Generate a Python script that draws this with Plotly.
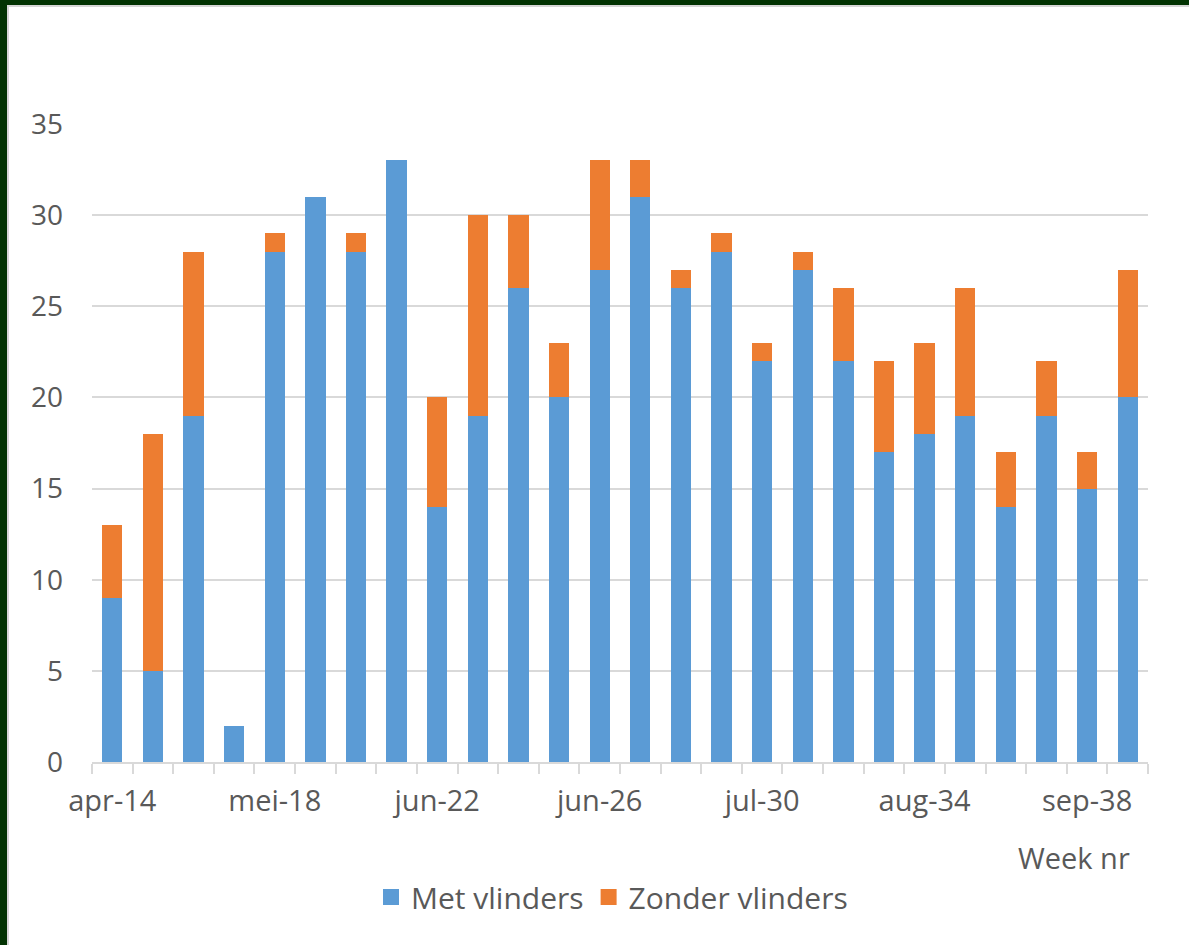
import plotly.graph_objects as go

weeks = list(range(14, 40))
met_vlinders = [9, 5, 19, 2, 28, 31, 28, 33, 14, 19, 26, 20, 27, 31, 26, 28, 22, 27, 22, 17, 18, 19, 14, 19, 15, 20]
zonder_vlinders = [4, 13, 9, 0, 1, 0, 1, 0, 6, 11, 4, 3, 6, 2, 1, 1, 1, 1, 4, 5, 5, 7, 3, 3, 2, 7]
tick_weeks = [14, 18, 22, 26, 30, 34, 38]
tick_labels = ["apr-14", "mei-18", "jun-22", "jun-26", "jul-30", "aug-34", "sep-38"]

W, H = 1189, 945
L, R, T, B = 92, 41, 124, 183
FONT = "Open Sans"
GREY = "#595959"
BLUE = "#5b9bd5"
ORANGE = "#ed7d31"


def px(x):
    return (x - L) / (W - L - R)


def py(y):
    return (H - B - y) / (H - T - B)


fig = go.Figure()
fig.add_trace(go.Bar(x=weeks, y=met_vlinders, name="Met vlinders", showlegend=False,
                     marker=dict(color=BLUE, line_width=0)))
fig.add_trace(go.Bar(x=weeks, y=zonder_vlinders, name="Zonder vlinders", showlegend=False,
                     marker=dict(color=ORANGE, line_width=0)))
# legend entries with big square keys
for name, col in [("Met vlinders", BLUE), ("Zonder vlinders", ORANGE)]:
    fig.add_trace(go.Scatter(x=[None], y=[None], mode="markers", name=name,
                             marker=dict(symbol="square", size=20, color=col)))

# frame: dark green border top/left with a thin grey edge
shapes = [
    dict(type="rect", xref="paper", yref="paper", x0=px(0), x1=px(7), y0=py(H), y1=py(0),
         fillcolor="#023302", line_width=0, layer="above"),
    dict(type="rect", xref="paper", yref="paper", x0=px(7), x1=px(9), y0=py(H), y1=py(5),
         fillcolor="#d6d6d6", line_width=0, layer="above"),
    dict(type="rect", xref="paper", yref="paper", x0=px(0), x1=px(W), y0=py(5), y1=py(0),
         fillcolor="#023302", line_width=0, layer="above"),
    dict(type="rect", xref="paper", yref="paper", x0=px(7), x1=px(W), y0=py(7), y1=py(5),
         fillcolor="#d6d6d6", line_width=0, layer="above"),
]

fig.update_layout(
    width=W, height=H,
    barmode="stack", bargap=0.5,
    margin=dict(l=L, r=R, t=T, b=B),
    paper_bgcolor="white", plot_bgcolor="white",
    font=dict(family=FONT, size=27, color=GREY),
    shapes=shapes,
    legend=dict(orientation="h", traceorder="normal", x=px(612), xanchor="center",
                y=py(897), yanchor="middle",
                font=dict(size=30, color=GREY), itemwidth=30),
    annotations=[dict(text="Week nr", xref="paper", yref="paper", x=px(1132), y=py(857),
                      xanchor="right", yanchor="middle", showarrow=False,
                      font=dict(size=29, color=GREY))],
    xaxis=dict(range=[13.5, 39.5], tickmode="array", tickvals=tick_weeks, ticktext=tick_labels,
               ticks="", showgrid=False, showline=True, linecolor="#d9d9d9", linewidth=1.5,
               zeroline=False, ticklabelstandoff=12, tickfont=dict(size=29, color=GREY),
               minor=dict(tickmode="linear", tick0=13.5, dtick=1, ticks="outside",
                          ticklen=10, tickcolor="#d9d9d9", tickwidth=1.5, showgrid=False)),
    yaxis=dict(range=[0, 35], dtick=5, showgrid=True, gridcolor="#d9d9d9", gridwidth=1.5,
               zeroline=False, showline=False, ticks="", ticklabelstandoff=28,
               tickfont=dict(size=28, color=GREY)),
)

fig.write_html("out.html", config={"displayModeBar": False},
               post_script="document.body.style.margin='0';")
